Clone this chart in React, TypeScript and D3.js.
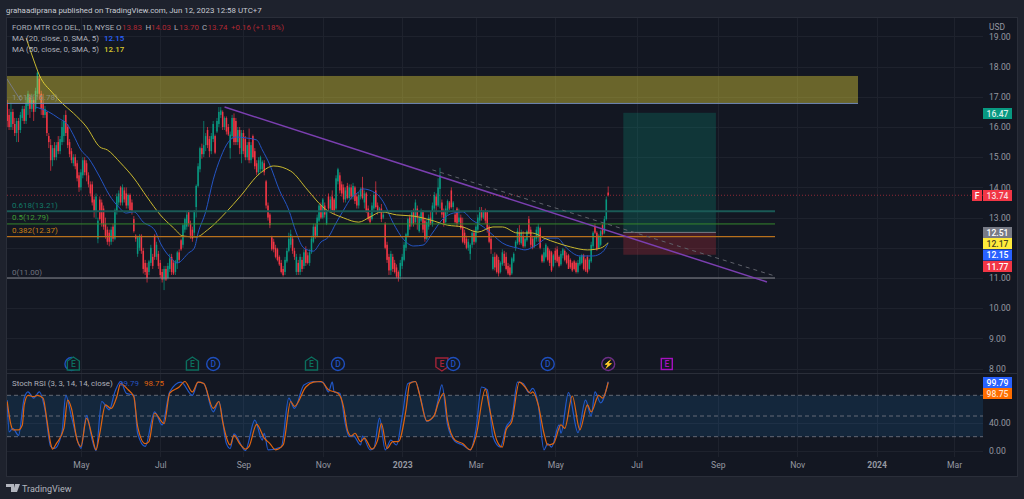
import React, { useEffect, useRef } from 'react';
import * as d3 from 'd3';

const opens = [
  16.8,16.4,16.0,16.5,16.1,15.8,16.2,15.9,16.3,16.6,
  16.2,16.7,17.0,16.6,16.9,16.6,17.1,17.6,17.1,16.8,
  16.4,16.5,15.7,15.4,14.9,15.3,15.0,15.5,15.2,15.5,
  15.7,16.4,16.0,15.5,15.2,14.8,15.0,14.8,14.4,14.0,
  14.4,14.9,14.8,14.4,14.1,14.1,13.6,13.2,12.3,13.6,
  13.5,13.3,12.8,12.6,12.5,12.2,12.7,12.3,13.2,13.5,
  14.0,13.5,13.9,13.8,13.4,13.75,13.5,12.95,12.4,11.8,
  12.0,12.4,11.9,11.5,11.35,11.2,11.5,11.7,12.4,11.7,
  11.8,11.5,11.2,10.95,11.3,11.0,11.3,11.7,11.5,11.2,
  11.5,11.85,12.25,12.1,12.6,12.7,13.2,12.8,12.6,12.5,
  13.35,14.05,14.6,15.3,15.1,15.4,15.9,15.6,15.2,15.6,
  15.7,15.85,16.1,16.4,16.5,16.0,16.3,16.0,15.3,15.7,
  16.3,16.2,15.5,15.9,15.1,15.8,15.6,15.0,15.5,14.9,
  15.7,15.2,14.8,14.5,14.6,14.6,14.8,14.2,13.4,13.1,
  12.35,12.2,12.0,11.95,11.7,11.5,11.3,11.2,11.55,11.9,
  12.1,12.3,11.9,11.2,11.5,11.2,11.6,11.4,11.95,11.75,
  11.5,11.85,12.2,12.7,12.4,12.9,13.4,13.0,13.4,12.8,
  13.7,13.3,13.7,13.6,13.3,14.2,14.4,14.1,14.0,13.6,
  14.05,13.65,14.0,13.7,14.0,13.7,13.4,13.7,14.0,13.5,
  13.8,13.3,13.05,12.95,13.3,13.9,13.4,13.2,13.3,13.0,
  12.8,12.1,11.7,11.25,11.7,11.5,11.35,11.2,11.05,11.4,
  11.6,12.0,12.4,13.0,12.8,13.2,12.85,13.3,12.55,12.9,
  13.2,12.9,12.3,12.7,13.0,12.8,13.3,13.7,13.4,13.95,
  13.5,13.2,12.85,13.2,13.5,13.9,13.35,13.1,13.3,12.85,
  13.0,12.7,12.5,12.3,12.0,11.8,12.1,12.5,12.2,12.6,
  12.9,13.25,13.0,13.2,13.2,12.7,12.3,11.3,11.7,11.75,
  11.6,11.2,11.45,11.8,11.7,11.4,11.35,11.15,11.55,12.0,
  12.15,12.5,12.15,12.4,12.05,12.25,12.95,12.6,12.3,12.05,
  12.3,12.35,12.65,11.75,11.55,11.7,12.0,11.9,11.85,11.4,
  11.9,11.95,11.7,11.45,11.75,11.9,11.75,11.75,11.6,11.5,
  11.55,11.5,11.2,11.45,11.5,11.75,11.6,11.7,11.3,11.55,
  12.05,12.7,12.5,12.0,12.1,12.75,12.5,12.95,13.83,
];
const highs = [
  16.9,16.6,16.8,16.6,16.3,16.3,16.3,16.5,16.7,16.7,
  17.0,17.2,17.1,17.1,17.0,17.3,17.85,17.7,17.2,17.1,
  16.7,16.5,15.8,15.6,15.4,15.5,15.5,15.7,15.7,16.2,
  16.4,16.55,16.1,15.6,15.3,15.1,15.1,14.9,14.5,14.6,
  15.0,15.0,14.9,14.5,14.2,14.2,13.7,13.8,13.0,13.7,
  13.6,13.4,13.0,12.7,12.6,12.7,12.8,13.3,13.8,13.9,
  14.05,14.1,14.0,14.0,13.8,13.8,13.6,13.05,12.45,12.4,
  12.45,12.45,12.0,11.6,11.5,11.6,12.1,11.8,12.45,12.2,
  11.9,11.6,11.3,11.4,11.4,11.5,11.8,11.8,11.6,11.6,
  11.9,11.95,12.3,12.8,13.0,13.2,13.25,12.9,12.7,13.25,
  14.1,14.8,15.35,15.45,16.2,15.8,16.0,15.7,15.8,16.2,
  15.75,16.3,16.66,16.66,16.55,16.35,16.35,16.1,15.85,16.4,
  16.45,16.3,16.0,16.0,15.9,15.9,15.7,15.5,15.95,15.5,
  15.75,15.3,14.9,15.0,15.05,14.9,14.9,14.25,13.5,13.15,
  12.4,12.3,12.1,12.0,11.75,11.6,11.4,11.7,12.0,12.5,
  12.6,12.4,12.0,11.8,11.6,11.8,11.7,11.95,12.05,11.85,
  11.95,12.4,12.8,12.8,13.1,13.45,13.5,13.65,13.5,13.25,
  13.8,13.7,13.9,13.65,14.4,14.65,14.5,14.2,14.1,14.0,
  14.15,14.1,14.1,14.15,14.05,13.8,13.85,14.0,14.35,13.9,
  13.85,13.4,13.15,13.5,13.85,14.2,13.5,13.35,13.45,13.2,
  12.85,12.2,11.8,11.9,11.8,11.6,11.45,11.25,11.6,11.8,
  12.2,12.5,13.0,13.1,13.25,13.3,13.6,13.4,13.1,13.3,
  13.25,13.0,12.95,13.1,13.2,13.5,13.85,13.8,14.3,14.65,
  13.6,13.3,13.4,13.6,13.55,14.0,13.55,13.2,13.35,13.3,
  13.1,13.0,12.6,12.4,12.3,12.15,12.55,12.6,12.75,13.1,
  13.35,13.35,13.25,13.3,13.25,12.75,12.4,11.8,11.85,11.8,
  11.7,11.55,11.95,11.9,11.85,11.5,11.45,11.7,11.85,12.25,
  12.65,12.75,12.6,12.55,12.35,12.6,13.05,12.7,12.4,12.4,
  12.7,12.8,12.7,11.8,12.0,12.15,12.05,11.95,11.9,11.8,
  12.0,12.05,11.75,11.9,12.0,11.95,11.85,11.8,11.65,11.55,
  11.6,11.55,11.6,11.75,11.8,11.8,11.65,11.75,11.65,12.2,
  12.55,12.8,12.55,12.45,12.6,12.8,13.05,13.7,14.03,
];
const lows = [
  16.0,15.9,15.9,15.9,15.7,15.5,15.5,15.8,16.2,16.1,
  16.1,16.4,16.3,16.5,16.2,16.5,17.0,16.9,16.4,16.3,
  16.3,15.7,15.3,14.55,14.7,14.9,14.9,15.1,15.1,15.4,
  15.5,15.7,15.3,15.0,14.8,14.7,14.6,14.2,13.85,13.9,
  14.3,14.4,14.2,14.0,13.7,13.4,13.0,12.95,12.15,12.9,
  12.7,12.6,12.3,12.1,12.05,12.1,12.2,12.25,13.1,13.4,
  13.4,13.4,13.5,13.3,13.3,13.2,13.1,12.5,12.2,11.7,
  11.9,11.8,11.15,11.1,10.85,11.1,11.4,11.3,11.6,11.6,
  11.3,11.0,10.85,10.6,10.9,10.95,11.2,11.1,11.1,11.1,
  11.3,11.5,11.9,12.0,12.5,12.6,12.7,12.3,12.2,12.4,
  13.0,14.0,14.5,14.95,15.0,15.2,15.3,15.0,15.1,15.5,
  15.1,15.8,16.0,16.3,15.9,15.9,15.75,15.7,14.95,15.6,
  15.4,15.4,15.4,15.1,14.8,15.1,14.9,14.9,14.8,14.8,
  14.95,14.6,14.4,14.4,14.5,14.5,14.4,13.3,12.9,12.65,
  11.9,11.85,11.65,11.55,11.4,11.15,11.05,11.1,11.5,11.85,
  12.0,11.8,11.6,11.1,11.1,11.1,11.2,11.3,11.4,11.45,
  11.4,11.8,12.15,12.3,12.35,12.85,12.95,12.95,13.0,12.75,
  13.2,13.2,13.2,13.1,13.25,14.1,13.8,13.7,13.5,13.5,
  13.6,13.6,13.6,13.6,13.45,13.3,13.3,13.6,13.6,13.3,
  13.15,12.9,12.8,12.9,13.2,13.3,13.1,13.15,12.85,12.95,
  11.95,11.5,11.1,11.1,11.2,11.15,11.0,10.88,10.95,11.3,
  11.55,11.9,12.35,12.6,12.7,12.7,12.8,12.6,12.5,12.85,
  12.5,12.2,12.25,12.6,12.75,12.7,13.2,13.1,13.35,13.3,
  13.0,12.7,12.8,13.1,13.25,13.3,13.2,12.8,12.7,12.8,
  12.6,12.15,12.1,11.95,11.9,11.6,12.0,12.1,12.15,12.5,
  12.8,12.9,12.95,12.8,12.5,12.15,11.8,11.25,11.25,11.15,
  11.05,11.15,11.4,11.4,11.25,11.1,11.05,11.1,11.5,11.9,
  12.1,12.1,12.1,12.0,12.0,12.2,12.45,12.0,11.95,12.0,
  12.2,12.2,11.95,11.5,11.5,11.65,11.55,11.4,11.2,11.35,
  11.5,11.5,11.35,11.4,11.65,11.55,11.45,11.3,11.3,11.2,
  11.25,11.15,11.15,11.4,11.45,11.25,11.2,11.15,11.25,11.5,
  11.95,12.45,11.9,11.95,12.05,12.4,12.45,12.9,13.70,
];
const closes = [
  16.2,16.0,16.5,16.1,15.8,16.2,15.9,16.4,16.6,16.2,
  16.8,17.1,16.6,16.9,16.5,17.2,17.8,17.1,16.6,16.4,
  16.6,15.8,15.5,14.9,15.3,15.0,15.4,15.2,15.6,16.0,
  16.2,15.8,15.4,15.1,14.9,15.0,14.7,14.3,14.0,14.5,
  14.9,14.5,14.4,14.1,13.8,13.5,13.2,13.7,12.9,12.95,
  12.8,12.7,12.4,12.2,12.2,12.6,12.3,13.25,13.7,13.8,
  13.5,14.0,13.6,13.4,13.75,13.25,13.2,12.55,12.3,12.35,
  12.4,11.9,11.3,11.2,11.0,11.55,12.0,11.4,11.7,12.1,
  11.4,11.1,10.95,11.3,10.95,11.4,11.65,11.2,11.15,11.55,
  11.85,11.6,11.95,12.75,12.95,13.1,12.8,12.4,12.3,13.2,
  14.05,14.7,15.3,15.1,15.4,15.7,15.4,15.2,15.7,16.1,
  15.15,16.2,16.5,16.55,16.0,16.3,15.85,15.75,15.75,16.3,
  15.5,15.5,15.9,15.3,15.8,15.2,15.0,15.4,14.9,15.4,
  15.0,14.7,14.5,14.9,15.0,14.85,14.5,13.4,13.0,12.75,
  11.95,11.95,11.7,11.6,11.45,11.2,11.1,11.6,11.9,12.3,
  12.45,11.9,11.7,11.7,11.2,11.7,11.3,11.85,11.5,11.5,
  11.85,12.3,12.7,12.4,13.0,13.4,13.0,13.6,13.1,13.2,
  13.3,13.6,13.25,13.2,14.3,14.6,13.9,13.8,13.6,13.9,
  13.65,14.0,13.7,14.05,13.55,13.4,13.75,13.95,13.65,13.8,
  13.2,12.95,12.85,13.4,13.75,13.35,13.2,13.3,12.95,13.1,
  12.0,11.6,11.25,11.8,11.3,11.2,11.05,11.0,11.5,11.7,
  12.1,12.45,12.95,12.7,13.2,12.8,13.5,13.0,13.0,13.2,
  12.6,12.3,12.85,13.0,12.8,13.4,13.75,13.4,14.0,14.4,
  13.1,12.8,13.3,13.55,13.3,13.35,13.5,12.85,12.8,13.0,
  12.65,12.2,12.15,12.0,12.2,12.1,12.5,12.2,12.7,13.0,
  13.25,13.0,13.2,12.9,12.6,12.2,11.95,11.7,11.35,11.2,
  11.15,11.5,11.85,11.5,11.3,11.15,11.1,11.65,11.8,12.2,
  12.55,12.2,12.5,12.05,12.3,12.55,12.5,12.1,12.0,12.35,
  12.6,12.7,12.0,11.55,11.85,12.1,11.6,11.5,11.25,11.75,
  11.6,11.55,11.4,11.8,11.95,11.6,11.5,11.3,11.35,11.25,
  11.3,11.2,11.5,11.7,11.75,11.3,11.25,11.2,11.6,12.1,
  12.5,12.5,11.95,12.4,12.55,12.45,12.95,13.6,13.74,
];

const ma20Bars = [15,22,27,32,35,39,43,49,54,59,63,67,72,78,81,86,90,96,99,101,105,109,113,117,121,126,132,135,139,144,149,153,157,162,166,170,174,178,182,186,188,195,199,204,210,215,220,225,230,236,241,246,252,257,262,270,274,280,286,291,296,303,310,315,318];
const ma20Values = [16.66,16.5,16.3,16.07,15.74,15.24,14.97,14.34,13.75,13.35,13.15,13.19,12.85,12.59,12.16,11.7,11.5,11.83,11.99,12.49,13.19,14.25,15.0,15.5,15.67,15.64,15.57,15.24,14.74,13.91,13.25,12.49,11.99,11.89,12.19,12.36,12.82,13.25,13.65,13.85,13.95,13.81,13.52,12.85,12.26,12.06,12.09,12.49,12.92,13.15,13.19,12.92,12.69,12.42,12.16,11.99,11.93,12.09,12.32,12.32,11.99,11.73,11.73,11.86,12.15];
const ma50Bars = [10,14,17,24,29,35,42,49,53,60,67,74,81,88,93,100,106,116,123,134,141,150,159,167,178,186,192,198,206,215,224,233,241,249,257,262,270,278,284,291,298,307,314,318];
const ma50Values = [18.95,18.22,17.72,17.13,16.79,16.46,16.0,15.34,15.24,14.81,14.31,13.68,13.09,12.66,12.39,12.36,12.59,13.19,13.68,14.48,14.71,14.54,13.91,13.35,12.99,12.85,13.02,13.19,13.09,13.05,12.92,12.75,12.69,12.52,12.69,12.69,12.49,12.49,12.32,12.16,12.03,11.93,11.99,12.17];

const kBars = [0,1,3,6,9,11,14,17,20,23,25,29,31,34,38,39,42,45,47,50,54,57,60,63,67,69,73,78,82,86,92,98,101,104,109,112,116,118,120,126,131,135,136,138,145,149,152,157,162,167,170,172,173,176,179,181,183,187,188,192,194,197,200,203,206,209,212,216,219,222,226,228,230,233,237,241,245,248,251,254,257,261,264,267,270,273,276,278,281,284,286,288,292,293,297,302,306,309,311,314,318];
const kValues = [73,27,32,22,76,85,76,85,59,6,3,27,80,49,8,3,51,15,0,71,59,85,100,83,80,25,6,56,37,85,99,80,99,97,56,71,10,3,24,0,44,15,25,1,5,76,61,95,100,99,85,99,85,83,37,20,22,8,21,1,3,47,1,15,8,49,97,100,73,42,51,73,95,37,13,8,1,30,92,88,20,5,34,47,99,97,84,90,66,1,10,5,37,25,84,26,73,50,85,69,99.79];
const dBars = [0,2,3,6,8,9,11,14,16,19,21,23,24,26,30,32,34,37,39,42,45,47,49,52,55,58,60,64,67,69,73,75,78,83,86,91,94,98,101,104,109,112,114,118,120,123,126,128,132,136,139,142,146,150,152,158,162,166,170,175,178,180,182,184,187,189,193,196,198,201,204,207,211,213,216,218,222,226,228,231,233,237,241,245,248,253,255,259,262,264,267,271,274,277,278,281,284,286,289,293,295,299,303,307,309,313,315,318];
const dValues = [71,37,30,30,37,66,80,78,80,76,44,10,2,10,32,73,61,15,6,47,20,1,25,66,61,78,97,88,78,35,10,13,54,39,83,92,100,85,99,97,61,71,42,8,22,10,2,6,38,18,10,1,8,71,64,92,99,100,88,83,63,30,21,25,13,18,2,15,39,3,13,13,59,97,100,83,43,51,68,83,44,15,10,1,20,89,64,15,5,30,42,99,92,83,85,66,25,8,10,37,32,79,30,66,56,80,76,98.75];

const priceTicks = [19,18,17,16,15,14,13,12,11,10,9,8];
const priceLabels = [19,18,17,16,15,14,13,11,10,9,8]; // 12.00 sits behind the price tags
const stochTicks = [40,0];
const stochBand = [80,50,20];
const timeLabels = ['May','Jul','Sep','Nov','2023','Mar','May','Jul','Sep','Nov','2024','Mar'];
const timeBars = [39,81,125,167,209,248,290,333,376,418,460,501];

const fibLevels = ['0(11.00)','0.382(12.37)','0.5(12.79)','0.618(13.21)'];
const fibPrices = [11.0,12.37,12.79,13.21];
const fibColors = ['#85878f','#b8701c','#35872c','#1a5a56'];
const fibWidths = [1.2,1.2,1,1.8];
const fibLabelColors = ['#6f727d','#c77f12','#3f9c35','#127a68'];

const priceTags = ['16.47','13.74','12.51','12.17','12.15','11.77'];
const tagFills = ['#089981','#f23645','#787b86','#ffeb3b','#2962ff','#f23645'];
const tagText = ['#d8efe9','#f7dadd','#ffffff','#4a4520','#ffffff','#ffffff'];

const eventBars = [34,35,98,109,161,175,230,236,286,318,349];
const eventKinds = ['D','EG','EG','D','EG','D','ER','D','D','S','EM'];

const App: React.FC = () => {
  const ref = useRef<SVGSVGElement>(null);

  useEffect(() => {
    if (!ref.current) return;
    const svg = d3.select(ref.current);
    svg.selectAll('*').remove();

    const font = 'Roboto, sans-serif';
    const plotRight = 983;
    const x = d3.scaleLinear().domain([0, 318]).range([7.2, 608.2]);
    const y = d3.scaleLinear().domain([8, 19]).range([368.6, 36.4]);
    const s = d3.scaleLinear().domain([0, 100]).range([450.5, 381.5]);

    svg.append('rect').attr('width', 1024).attr('height', 499).attr('fill', '#1e222d');
    svg.append('rect').attr('x', 6.5).attr('y', 17.5).attr('width', 1011).attr('height', 459)
      .attr('fill', '#131722').attr('stroke', '#2a2e39');

    const defs = svg.append('defs');
    defs.append('clipPath').attr('id', 'top').append('rect').attr('x', 7).attr('y', 18).attr('width', plotRight - 7).attr('height', 355);
    defs.append('clipPath').attr('id', 'bot').append('rect').attr('x', 7).attr('y', 374).attr('width', plotRight - 7).attr('height', 83);

    // grid
    const grid = svg.append('g').attr('stroke', '#1e222d').attr('stroke-width', 1);
    grid.selectAll('line.h').data(priceTicks).enter().append('line')
      .attr('x1', 7).attr('x2', plotRight).attr('y1', d => Math.round(y(d)) + 0.5).attr('y2', d => Math.round(y(d)) + 0.5);
    grid.selectAll('line.s').data(stochTicks).enter().append('line')
      .attr('x1', 7).attr('x2', plotRight).attr('y1', d => Math.round(s(d)) + 0.5).attr('y2', d => Math.round(s(d)) + 0.5);
    grid.selectAll('line.v').data(timeBars).enter().append('line')
      .attr('x1', d => Math.round(x(d)) + 0.5).attr('x2', d => Math.round(x(d)) + 0.5).attr('y1', 18).attr('y2', 457);

    // long position boxes sit under the candles
    const pos = svg.append('g');
    pos.append('rect').attr('x', x(326)).attr('width', x(375) - x(326)).attr('y', y(16.47)).attr('height', y(12.51) - y(16.47))
      .attr('fill', '#089981').attr('fill-opacity', 0.24);
    pos.append('rect').attr('x', x(326)).attr('width', x(375) - x(326)).attr('y', y(12.51)).attr('height', y(11.77) - y(12.51))
      .attr('fill', '#f23645').attr('fill-opacity', 0.22);
    pos.append('line').attr('x1', x(326)).attr('x2', x(375)).attr('y1', y(12.51)).attr('y2', y(12.51)).attr('stroke', '#787b86');

    // candles
    const bars = d3.range(closes.length);
    const candles = svg.append('g').attr('clip-path', 'url(#top)');
    const colour = (i: number) => (closes[i] >= opens[i] ? '#089981' : '#f23645');
    candles.selectAll('line').data(bars).enter().append('line')
      .attr('x1', i => x(i)).attr('x2', i => x(i)).attr('y1', i => y(highs[i])).attr('y2', i => y(lows[i]))
      .attr('stroke', colour).attr('stroke-width', 0.7);
    candles.selectAll('rect').data(bars).enter().append('rect')
      .attr('x', i => x(i) - 0.75).attr('width', 1.5)
      .attr('y', i => y(Math.max(opens[i], closes[i])))
      .attr('height', i => Math.max(0.6, Math.abs(y(opens[i]) - y(closes[i]))))
      .attr('fill', colour);

    // moving averages
    const maLine = (xs: number[], vs: number[]) =>
      d3.line<number>().x(i => x(xs[i])).y(i => y(vs[i])).curve(d3.curveMonotoneX)(d3.range(xs.length));
    candles.append('path').attr('d', maLine(ma20Bars, ma20Values)).attr('fill', 'none').attr('stroke', '#2455c4').attr('stroke-width', 1);
    candles.append('path').attr('d', maLine(ma50Bars, ma50Values)).attr('fill', 'none').attr('stroke', '#c9b92f').attr('stroke-width', 1);

    // fib zone and levels
    const draw = svg.append('g').attr('clip-path', 'url(#top)');
    draw.append('rect').attr('x', 7).attr('width', 851).attr('y', y(17.69)).attr('height', y(16.78) - y(17.69))
      .attr('fill', '#ffeb3b').attr('fill-opacity', 0.37);
    draw.append('line').attr('x1', 7).attr('x2', 858).attr('y1', y(16.78)).attr('y2', y(16.78)).attr('stroke', '#6f86b5').attr('stroke-width', 1);
    draw.append('line').attr('x1', 7).attr('x2', 21).attr('y1', 79).attr('y2', 101).attr('stroke', '#787b86').attr('stroke-width', 1);
    draw.selectAll('line.fib').data(fibPrices).enter().append('line')
      .attr('x1', 7).attr('x2', 775)
      .attr('y1', d => y(d)).attr('y2', d => y(d))
      .attr('stroke', (_, i) => fibColors[i]).attr('stroke-width', (_, i) => fibWidths[i]);
    draw.selectAll('text.fib').data(fibLevels).enter().append('text')
      .attr('x', 12).attr('y', (_, i) => y(fibPrices[i]) - 3.5)
      .attr('font-family', font).attr('font-size', 8)
      .attr('fill', (_, i) => fibLabelColors[i]).text(d => d);
    draw.append('text').attr('x', 12).attr('y', 100).attr('font-family', font).attr('font-size', 8)
      .attr('fill', '#8a8f80').text('1.618(16.78)');

    // trend lines
    const trend = d3.line<[number, number]>().x(d => x(d[0])).y(d => y(d[1]));
    draw.append('path').attr('d', trend([[115, 16.66], [402, 10.87]])).attr('fill', 'none').attr('stroke', '#7b3fb0').attr('stroke-width', 1.5);
    draw.append('path').attr('d', trend([[225, 14.58], [406, 11.07]])).attr('fill', 'none').attr('stroke', '#5f626b')
      .attr('stroke-width', 1).attr('stroke-dasharray', '4 4');

    // last price
    draw.append('line').attr('x1', 7).attr('x2', plotRight).attr('y1', y(13.74)).attr('y2', y(13.74))
      .attr('stroke', '#f23645').attr('stroke-opacity', 0.55).attr('stroke-dasharray', '1 2');

    // stoch pane
    svg.append('line').attr('x1', 7).attr('x2', 1017).attr('y1', 373.5).attr('y2', 373.5).attr('stroke', '#2a2e39');
    const pane = svg.append('g').attr('clip-path', 'url(#bot)');
    pane.append('rect').attr('x', 7).attr('width', plotRight - 7).attr('y', s(80)).attr('height', s(20) - s(80))
      .attr('fill', '#2196f3').attr('fill-opacity', 0.13);
    pane.selectAll('line.band').data(stochBand).enter().append('line')
      .attr('x1', 7).attr('x2', plotRight).attr('y1', d => s(d)).attr('y2', d => s(d))
      .attr('stroke', '#787b86').attr('stroke-dasharray', '4 3').attr('stroke-width', 0.8);
    const stochLine = (xs: number[], vs: number[]) =>
      d3.line<number>().x(i => x(xs[i])).y(i => s(vs[i])).curve(d3.curveMonotoneX)(d3.range(xs.length));
    pane.append('path').attr('d', stochLine(kBars, kValues)).attr('fill', 'none').attr('stroke', '#2158c9').attr('stroke-width', 1.2);
    pane.append('path').attr('d', stochLine(dBars, dValues)).attr('fill', 'none').attr('stroke', '#e0640f').attr('stroke-width', 1.2);

    // axes
    const priceAxis = d3.axisRight(y).tickValues(priceLabels).tickSize(0).tickPadding(0).tickFormat(d3.format('.2f') as any);
    const gp = svg.append('g').attr('transform', 'translate(989,0)').call(priceAxis);
    const stochAxis = d3.axisRight(s).tickValues(stochTicks).tickSize(0).tickPadding(0).tickFormat(d3.format('.2f') as any);
    const gs = svg.append('g').attr('transform', 'translate(989,0)').call(stochAxis);
    const timeAxis = d3.axisBottom(x).tickValues(timeBars).tickSize(0).tickPadding(0)
      .tickFormat((_, i) => timeLabels[i]);
    const gt = svg.append('g').attr('transform', 'translate(0,462)').call(timeAxis);
    [gp, gs, gt].forEach(g => {
      g.select('.domain').remove();
      g.selectAll('text').attr('font-family', font).attr('font-size', 8.6).attr('fill', '#9598a1');
    });
    gt.selectAll('text').attr('font-weight', (_, i) => (timeLabels[i].length === 4 ? 700 : 400));
    gs.selectAll('text').attr('text-anchor', 'start');

    const label = (tx: number, ty: number, t: string, fill: string, size = 7.9, weight = 400) =>
      svg.append('text').attr('x', tx).attr('y', ty).attr('font-family', font).attr('font-size', size)
        .attr('font-weight', weight).attr('fill', fill).text(t);

    label(989, 30, 'USD', '#9598a1', 8.4);

    // price tags
    const tags = svg.append('g');
    priceTags.forEach((t, i) => {
      const tagY = [108, 190, 227, 238, 249.5, 261][i];
      tags.append('rect').attr('x', 983).attr('y', tagY).attr('width', 29).attr('height', 11).attr('fill', tagFills[i]);
      tags.append('text').attr('x', 997.5).attr('y', tagY + 8.5).attr('text-anchor', 'middle')
        .attr('font-family', font).attr('font-size', 8.6).attr('font-weight', 500).attr('fill', tagText[i]).text(t);
    });
    tags.append('rect').attr('x', 972).attr('y', 190).attr('width', 10).attr('height', 11).attr('fill', '#f23645');
    tags.append('text').attr('x', 977).attr('y', 198.5).attr('text-anchor', 'middle').attr('font-family', font)
      .attr('font-size', 8.6).attr('font-weight', 500).attr('fill', '#fff').text('F');
    tags.append('rect').attr('x', 983).attr('y', 377).attr('width', 29).attr('height', 11).attr('fill', '#2962ff');
    tags.append('text').attr('x', 997.5).attr('y', 385.5).attr('text-anchor', 'middle').attr('font-family', font)
      .attr('font-size', 8.6).attr('font-weight', 500).attr('fill', '#fff').text('99.79');
    tags.append('rect').attr('x', 983).attr('y', 388).attr('width', 29).attr('height', 11).attr('fill', '#ff6d00');
    tags.append('text').attr('x', 997.5).attr('y', 396.5).attr('text-anchor', 'middle').attr('font-family', font)
      .attr('font-size', 8.6).attr('font-weight', 500).attr('fill', '#ffe3cc').text('98.75');

    // events row
    const ev = svg.append('g').attr('font-family', font).attr('font-size', 8.5).attr('font-weight', 500).attr('text-anchor', 'middle');
    eventBars.forEach((b, i) => {
      const cx = x(b);
      const cy = 364;
      const kind = eventKinds[i];
      const col = kind === 'D' ? '#1f4fbd' : kind === 'EG' ? '#0c6f5e' : kind === 'ER' ? '#a32438' : kind === 'S' ? '#6d2f86' : '#a511c0';
      if (kind === 'D' || kind === 'S') {
        ev.append('circle').attr('cx', cx).attr('cy', cy).attr('r', 6.5).attr('fill', '#131722').attr('stroke', col).attr('stroke-width', 1.4);
      } else if (kind === 'EM') {
        ev.append('rect').attr('x', cx - 5.5).attr('y', cy - 5.5).attr('width', 11).attr('height', 11).attr('fill', '#131722').attr('stroke', col).attr('stroke-width', 1.4);
      } else {
        const pts = kind === 'EG'
          ? [[0, -7], [6, -3], [6, 6], [-6, 6], [-6, -3]]
          : [[-6, -6], [6, -6], [6, 3], [0, 7], [-6, 3]];
        ev.append('polygon').attr('points', pts.map(p => `${cx + p[0]},${cy + p[1]}`).join(' '))
          .attr('fill', '#131722').attr('stroke', col).attr('stroke-width', 1.4);
      }
      if (i === 0) return; // the first D is covered by the E beside it
      ev.append('text').attr('x', cx).attr('y', cy + 3).attr('fill', col)
        .text(kind === 'D' ? 'D' : kind === 'S' ? '⚡' : 'E');
    });

    // legend
    label(6, 13, 'grahaadiprana published on TradingView.com, Jun 12, 2023 12:58 UTC+7', '#c8cbd3', 7.9);
    const red = '#b22833';
    label(12, 30, 'FORD MTR CO DEL, 1D, NYSE', '#aeb1ba');
    label(116, 30, 'O', '#aeb1ba');
    label(122, 30, '13.83', red);
    label(145.5, 30, 'H', '#aeb1ba');
    label(151, 30, '14.03', red);
    label(174, 30, 'L', '#aeb1ba');
    label(179, 30, '13.70', red);
    label(202, 30, 'C', '#aeb1ba');
    label(207.5, 30, '13.74', red);
    label(231, 30, '+0.16 (+1.18%)', red);
    label(12, 41, 'MA (20, close, 0, SMA, 5)', '#aeb1ba');
    label(104, 41, '12.15', '#2962ff', 7.9, 500);
    label(12, 52, 'MA (50, close, 0, SMA, 5)', '#aeb1ba');
    label(104, 52, '12.17', '#d9c82e', 7.9, 500);
    label(12, 386, 'Stoch RSI (3, 3, 14, 14, close)', '#aeb1ba');
    label(119, 386, '99.79', '#2455c4');
    label(144, 386, '98.75', '#e0640f');

    // logo
    svg.append('path').attr('d', 'M6 484h8v8h-3v-5h-5zM15 484h5l-3 8h-4z').attr('fill', '#b2b5be');
    label(22, 491.5, 'TradingView', '#b2b5be', 9);
  }, []);

  return <svg ref={ref} width={1024} height={499} style={{ position: 'absolute', left: 0, top: 0, display: 'block' }}></svg>;
};

export default App;
